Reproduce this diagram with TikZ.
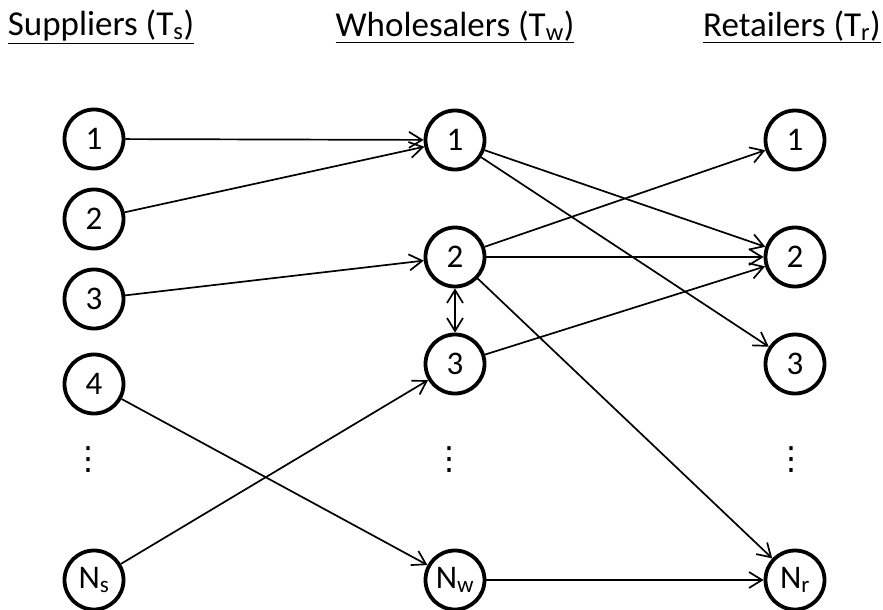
\documentclass[tikz,border=0pt]{standalone}
\usepackage{fontspec}
\setmainfont{Carlito}
\newfontfamily\symfont{DejaVu Sans}
\usetikzlibrary{arrows.meta}
\begin{document}
\begin{tikzpicture}[x=1pt,y=-1pt,
  ent/.style={circle,draw,line width=3.8pt,minimum size=59pt,inner sep=0pt,font=\fontsize{33}{38}\selectfont},
  hdr/.style={font=\fontsize{35}{40}\selectfont,anchor=center},
  dts/.style={font=\symfont\fontsize{32}{36}\selectfont,inner sep=0pt},
  link/.style={line width=1.7pt,-{Straight Barb[length=13pt,width=16pt,line width=1.7pt]}},
  both/.style={line width=1.7pt,{Straight Barb[length=13pt,width=16pt,line width=1.7pt]}-{Straight Barb[length=13pt,width=16pt,line width=1.7pt]}}]
\useasboundingbox (0,0) rectangle (883,610);
\node[hdr] (hs) at (101,27) {\underline{Suppliers (T\textsubscript{s})}};
\node[hdr] (hw) at (455,27) {\underline{Wholesalers (T\textsubscript{w})}};
\node[hdr] (hr) at (792,27) {\underline{Retailers (T\textsubscript{r})}};
% suppliers
\node[ent] (s1) at (94,139) {1};
\node[ent] (s2) at (94,219) {2};
\node[ent] (s3) at (94,299) {3};
\node[ent] (s4) at (94,384) {4};
\node[dts] (sd) at (88,460) {⋮};
\node[ent] (sn) at (94,580) {N\textsubscript{s}};
% wholesalers
\node[ent] (w1) at (455,140) {1};
\node[ent] (w2) at (455,257) {2};
\node[ent] (w3) at (455,364) {3};
\node[dts] (wd) at (449,460) {⋮};
\node[ent] (wn) at (455,580) {N\textsubscript{w}};
% retailers
\node[ent] (r1) at (795,140) {1};
\node[ent] (r2) at (795,257) {2};
\node[ent] (r3) at (795,364) {3};
\node[dts] (rd) at (791,460) {⋮};
\node[ent] (rn) at (795,580) {N\textsubscript{r}};
% links
\draw[link] (s1) -- (w1);
\draw[link] (s2) -- (w1);
\draw[link] (s3) -- (w2);
\draw[link] (s4) -- (wn);
\draw[link] (sn) -- (w3);
\draw[link] (w1) -- (r2);
\draw[link] (w1) -- (r3);
\draw[link] (w2) -- (r1);
\draw[link] (w2) -- (r2);
\draw[link] (w2) -- (rn);
\draw[both] (w2) -- (w3);
\draw[link] (w3) -- (r2);
\draw[link] (wn) -- (rn);
\end{tikzpicture}
\end{document}
